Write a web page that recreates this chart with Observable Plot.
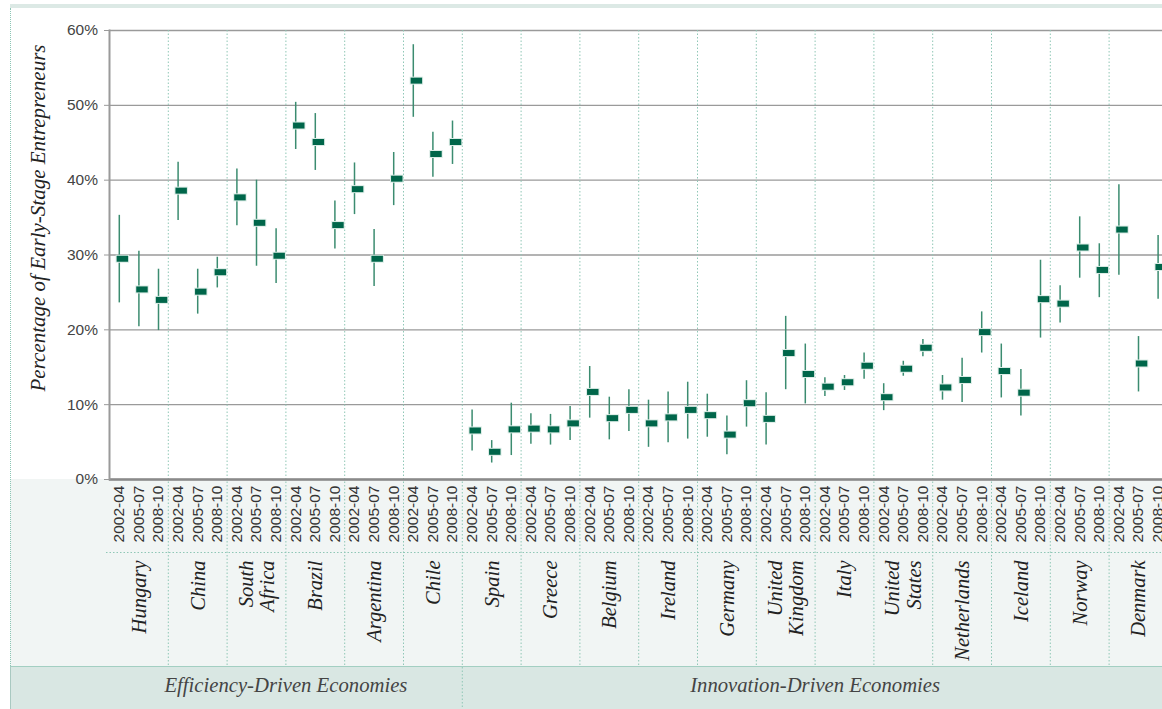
<!DOCTYPE html>
<html><head><meta charset="utf-8">
<script src="https://cdn.jsdelivr.net/npm/d3@7"></script>
<script src="https://cdn.jsdelivr.net/npm/@observablehq/plot@0.6"></script>
<style>
html,body{margin:0;padding:0;background:#fff;overflow:hidden;}
#wrap{position:relative;width:1162px;height:709px;overflow:hidden;}
.bg{position:absolute;}
#chart{position:absolute;left:0;top:0;width:1180px;height:709px;}
#chart svg{max-width:none !important;}
</style></head><body>
<div id="wrap">
 <div class="bg" style="left:10px;top:4px;right:0;height:4px;background:#dce9e5"></div>
 <div class="bg" style="left:10px;top:479px;right:0;height:187px;background:#f1f5f4"></div>
 <div class="bg" style="left:10px;top:666px;right:0;height:43px;background:#d9e7e3;border-top:1.5px solid #a3cfc2;border-left:1px solid #a9c9c1"></div>
 <div class="bg" style="left:10px;top:8px;height:658px;border-left:1px dotted #8cc5b4"></div>
 <div id="chart"></div>
</div>
<script>
const countries = ["Hungary","China","South Africa","Brazil","Argentina","Chile","Spain","Greece","Belgium","Ireland","Germany","United Kingdom","Italy","United States","Netherlands","Iceland","Norway","Denmark"];
const countryLabels = ["Hungary","China","South\nAfrica","Brazil","Argentina","Chile","Spain","Greece","Belgium","Ireland","Germany","United\nKingdom","Italy","United\nStates","Netherlands","Iceland","Norway","Denmark"];
const periods = ["2002-04","2005-07","2008-10"];
const economies = ["Efficiency-Driven Economies","Innovation-Driven Economies"];
const economyCountryCounts = [6, 12];
const yTicks = [0,10,20,30,40,50,60];

// TEA rate (%) per country x period, in country order then period order
const teaRate = [
 29.5,25.4,24.0,  38.6,25.1,27.7,  37.7,34.3,29.9,  47.3,45.1,34.0,  38.8,29.5,40.2,  53.3,43.5,45.1,
 6.55,3.7,6.7,    6.8,6.7,7.5,     11.7,8.2,9.3,    7.5,8.3,9.3,     8.6,6.0,10.2,    8.1,16.9,14.1,
 12.4,13.0,15.2,  11.0,14.8,17.6,  12.3,13.3,19.7,  14.5,11.6,24.1,  23.5,31.0,28.0,  33.4,15.5,28.4
];
const teaLow = [
 23.6,20.4,19.9,  34.6,22.1,25.6,  33.9,28.5,26.2,  44.1,41.3,30.8,  35.4,25.8,36.6,  48.4,40.4,42.1,
 3.8,2.2,3.2,     4.7,4.6,5.2,     8.2,5.3,6.4,     4.3,4.9,5.4,     5.65,3.3,7.0,    4.6,12.0,10.1,
 11.1,11.9,13.4,  9.2,13.8,16.4,   10.6,10.3,16.9,  10.9,8.5,18.9,   20.9,26.9,24.3,  27.3,11.7,24.1
];
const teaHigh = [
 35.3,30.5,28.1,  42.4,28.1,29.7,  41.5,40.0,33.5,  50.4,48.9,37.2,  42.3,33.4,43.7,  58.1,46.4,47.9,
 9.3,5.2,10.2,    8.8,8.7,9.75,    15.1,11.0,12.0,  10.6,11.7,13.0,  11.4,8.5,13.2,   11.6,21.8,18.1,
 13.6,13.9,16.9,  12.8,15.8,18.7,  13.9,16.2,22.4,  18.1,14.7,29.3,  25.9,35.1,31.5,  39.4,19.1,32.6
];

const rows = [];
countries.forEach((c, i) => periods.forEach((p, j) => {
  const k = i * periods.length + j;
  rows.push({key: c + "|" + p, country: c, period: p, v: teaRate[k], lo: teaLow[k], hi: teaHigh[k]});
}));
const keys = rows.map(d => d.key);

const W = 1180, H = 709, mL = 109, mR = 12.6, mT = 30, mB = 230;
const bw = (W - mL - mR) / keys.length;

const countryText = countries.map((c, i) => ({key: c + "|" + periods[1], label: countryLabels[i]}));
const sepEff = countries.slice(1).filter((c, i) => i + 1 !== economyCountryCounts[0]).map(c => c + "|" + periods[0]);
const sepEcon = [countries[economyCountryCounts[0]] + "|" + periods[0]];
let start = 0;
const econText = economies.map((e, i) => {
  const n = economyCountryCounts[i] * periods.length;
  const mid = start + n / 2;
  start += n;
  return {key: keys[mid], label: e};
});

const sepStyle = {stroke: "#8fc7b6", strokeWidth: 1, strokeDasharray: "1.5,2"};
const serif = "'Liberation Serif','Times New Roman',serif";

const plot = Plot.plot({
  width: W, height: H,
  marginLeft: mL, marginRight: mR, marginTop: mT, marginBottom: mB,
  style: {fontFamily: "'Liberation Sans',Arial,sans-serif", background: "transparent", overflow: "visible", maxWidth: "none"},
  x: {type: "band", domain: keys, padding: 0},
  y: {domain: [0, 60]},
  marks: [
    Plot.gridY(yTicks, {stroke: "#9a9a9a", strokeOpacity: 1, strokeWidth: 1.4}),
    Plot.ruleX(sepEff, {x: d => d, dx: -bw / 2, insetBottom: -187, ...sepStyle}),
    Plot.ruleX(sepEcon, {x: d => d, dx: -bw / 2, insetBottom: -230, ...sepStyle}),
    Plot.ruleY([0], {dy: 73, insetLeft: -3, insetRight: -20, ...sepStyle}),
    Plot.ruleY([0], {stroke: "#8a8a8a", strokeWidth: 2.5, insetRight: -20}),
    Plot.frame({anchor: "left", stroke: "#9a9a9a", strokeWidth: 2}),
    Plot.axisY(yTicks, {tickSize: 5, tickPadding: 6.5, stroke: "#9a9a9a", fill: "#444", fontSize: 15.5, tickFormat: d => d + "%", label: null}),
    Plot.axisX({tickSize: 0, tickPadding: 6, tickRotate: -90, fontSize: 15.5, fill: "#333", tickFormat: d => d.split("|")[1], label: null}),
    Plot.ruleX(rows, {x: "key", y1: "lo", y2: "hi", stroke: "#3b8c70", strokeWidth: 1.5}),
    Plot.tickY(rows, {x: "key", y: "v", stroke: "#dbece6", strokeWidth: 8, insetLeft: bw * 0.39 - 1, insetRight: 0.5 - 1}),
    Plot.tickY(rows, {x: "key", y: "v", stroke: "#00664a", strokeWidth: 6, insetLeft: bw * 0.39, insetRight: 0.5}),
    Plot.text(countryText, {x: "key", text: "label", frameAnchor: "bottom", dy: 81, rotate: -90, textAnchor: "end", lineAnchor: "middle", lineHeight: 1.05, fontSize: 20.5, fontStyle: "italic", fontFamily: serif, fill: "#222"}),
    Plot.text(econText, {x: "key", text: "label", dx: -bw / 2, frameAnchor: "bottom", dy: 212, fontSize: 20.7, fontStyle: "italic", fontFamily: serif, fill: "#444"}),
    Plot.text(["Percentage of Early-Stage Entrepreneurs"], {text: d => d, frameAnchor: "left", textAnchor: "middle", dx: -71, dy: -37, rotate: -90, fontSize: 21, fontStyle: "italic", fontFamily: serif, fill: "#222"})
  ]
});
document.getElementById("chart").appendChild(plot);
</script>
</body></html>
